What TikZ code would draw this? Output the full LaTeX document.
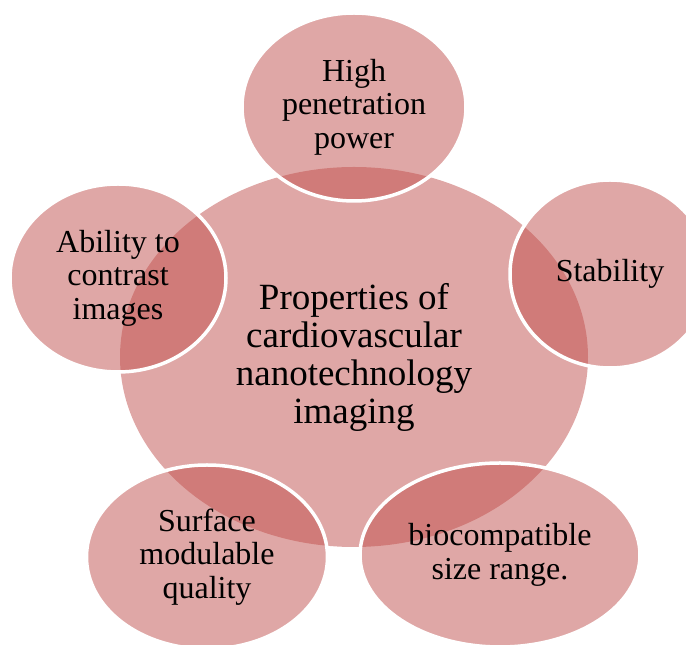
\documentclass[tikz,border=0pt]{standalone}
\usepackage{fontspec}
\setmainfont{Liberation Serif}
\usetikzlibrary{shapes.geometric}
\definecolor{petal}{HTML}{C0504D}

\begin{document}
\begin{tikzpicture}[x=1pt, y=1pt,
        hub/.style={ellipse, fill=petal, fill opacity=0.5, text opacity=1,
            inner sep=0pt, align=center, font=\fontsize{37}{38}\selectfont},
        sat/.style={ellipse, fill=petal, fill opacity=0.5, text opacity=1,
            draw=white, line width=3.5pt, inner sep=0pt, align=center,
            font=\fontsize{32}{33.5}\selectfont}]
        \useasboundingbox (0,0) rectangle (686,645);

        % centre first, the five satellites lie over it
        \node (P) [hub, minimum width=468, minimum height=380] at (354,288)
            {Properties of\\cardiovascular\\nanotechnology\\imaging};

        \node (H) [sat, minimum width=224, minimum height=188] at (354,538) {High\\penetration\\power};
        \node (S) [sat, minimum width=200, minimum height=188] at (610,371) {Stability};
        \node (B) [sat, minimum width=280, minimum height=184] at (500,90) {biocompatible\\size range.};
        \node (M) [sat, minimum width=241, minimum height=184] at (207,88) {Surface\\modulable\\quality};
        \node (A) [sat, minimum width=216, minimum height=188] at (118,367) {Ability to\\contrast\\images};

        \end{tikzpicture}
\end{document}
